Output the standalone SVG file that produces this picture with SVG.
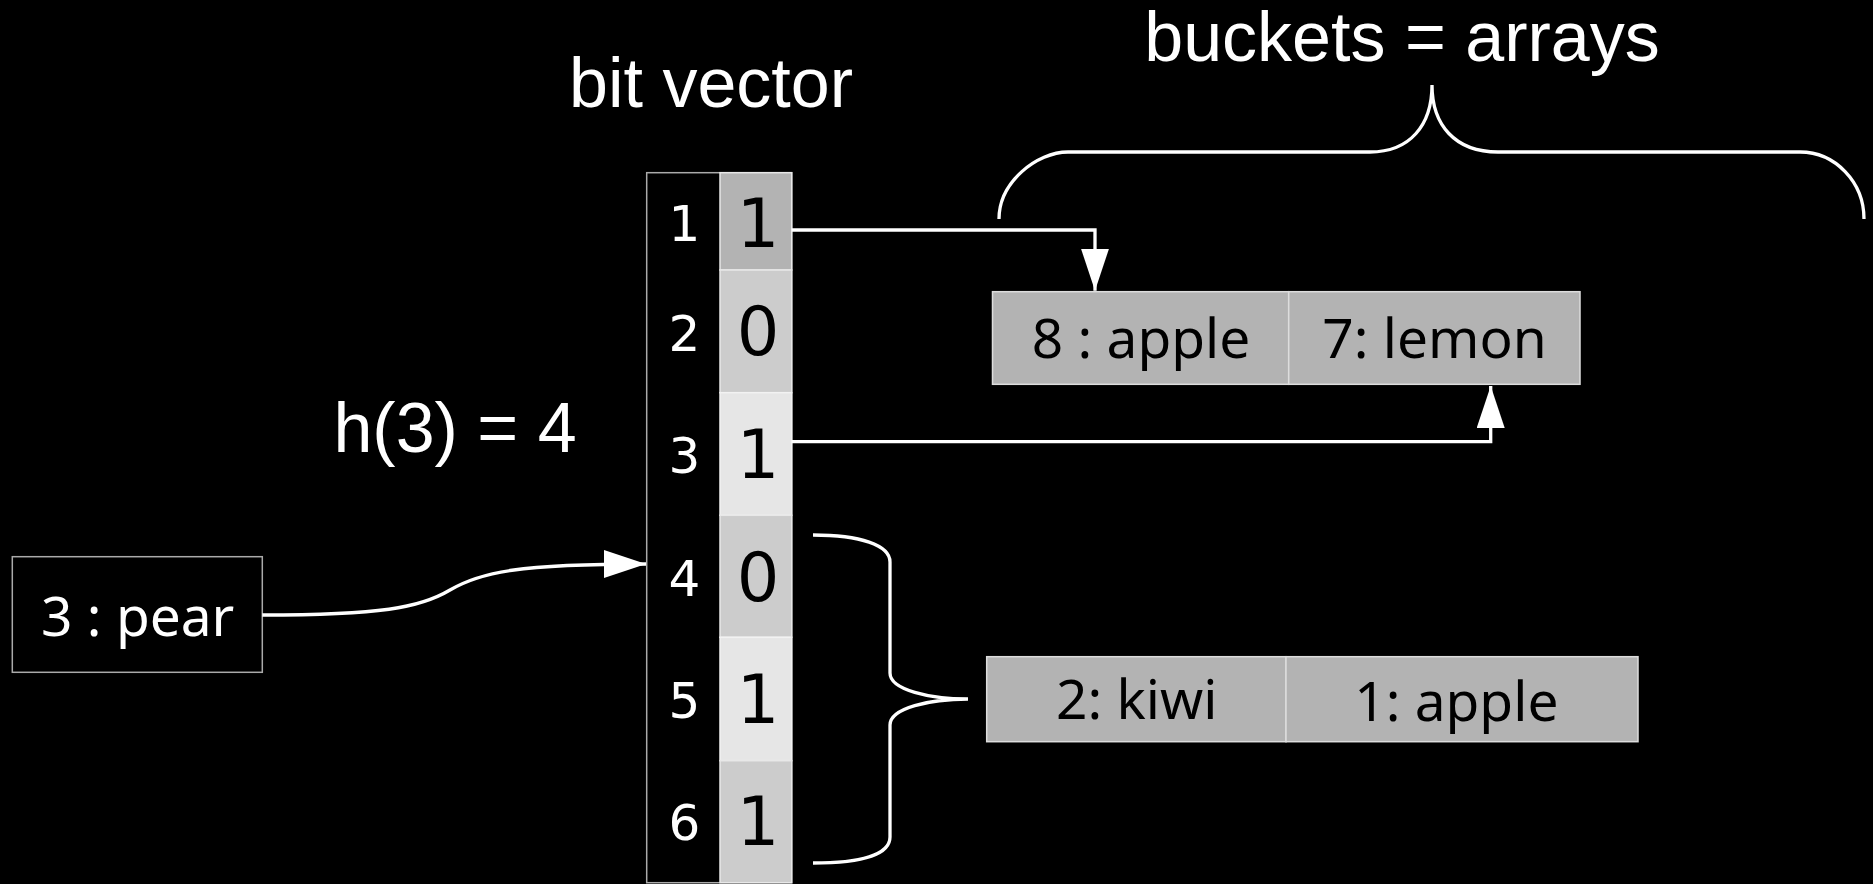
<svg xmlns="http://www.w3.org/2000/svg" width="1873" height="884" viewBox="0 0 1873 884">
<style>
.title{font-family:"Liberation Sans",Arial,sans-serif;font-size:70px;fill:#fff;text-anchor:middle}
.idx{font-family:"DejaVu Sans",sans-serif;font-size:50px;fill:#fff;text-anchor:middle}
.bit{font-family:"DejaVu Sans",sans-serif;font-size:67px;fill:#000;text-anchor:middle}
.item{font-family:"Noto Sans",sans-serif;font-size:55px;fill:#000;text-anchor:middle}
.cell{fill:#b3b3b3;stroke:#dddddd;stroke-width:1.5}
.conn{fill:none;stroke:#fff;stroke-width:3.3}
.brace{fill:none;stroke:#fff;stroke-width:3.3}
</style>
<defs>
<marker id="arr" markerUnits="userSpaceOnUse" markerWidth="42" markerHeight="28" refX="42" refY="14" orient="auto">
<path d="M0,0 L42,14 L0,28 z" fill="#fff"/>
</marker>
</defs>
<rect width="1873" height="884" fill="#000"/>

<g id="title-bit-vector"><text class="title" x="711" y="107">bit vector</text></g>
<g id="title-buckets"><text class="title" x="1402" y="61">buckets = arrays</text></g>
<g id="label-hash"><text class="title" x="455" y="452">h(3) = 4</text></g>

<g id="bit-vector">
<rect x="646.7" y="172.7" width="145" height="710" fill="#000" stroke="#aaaaaa" stroke-width="1.5"/>
<rect x="720" y="172.7" width="71.7" height="97.3" fill="#b3b3b3" stroke="#e8e8e8" stroke-width="1.5"/>
<rect x="720" y="270" width="71.7" height="122.7" fill="#cccccc" stroke="#e8e8e8" stroke-width="1.5"/>
<rect x="720" y="392.7" width="71.7" height="122.6" fill="#e6e6e6" stroke="#f2f2f2" stroke-width="1.5"/>
<rect x="720" y="515.3" width="71.7" height="122" fill="#cccccc" stroke="#e8e8e8" stroke-width="1.5"/>
<rect x="720" y="637.3" width="71.7" height="123.4" fill="#e6e6e6" stroke="#f2f2f2" stroke-width="1.5"/>
<rect x="720" y="760.7" width="71.7" height="122" fill="#cccccc" stroke="#e8e8e8" stroke-width="1.5"/>
<text class="idx" x="684.5" y="241">1</text>
<text class="idx" x="684.5" y="351">2</text>
<text class="idx" x="684.5" y="473">3</text>
<text class="idx" x="684.5" y="596">4</text>
<text class="idx" x="684.5" y="718">5</text>
<text class="idx" x="684.5" y="840">6</text>
<text class="bit" x="758" y="247">1</text>
<text class="bit" x="758" y="355">0</text>
<text class="bit" x="758" y="478">1</text>
<text class="bit" x="758" y="601">0</text>
<text class="bit" x="758" y="723">1</text>
<text class="bit" x="758" y="845">1</text>
</g>

<g id="pear">
<rect x="12.3" y="556.7" width="250" height="115.6" fill="#000" stroke="#aaaaaa" stroke-width="1.5"/>
<text class="item" x="137.7" y="635.7" style="fill:#fff">3 : pear</text>
</g>

<g id="bucket-1">
<rect class="cell" x="992.5" y="291.7" width="296.2" height="92.6"/>
<rect class="cell" x="1288.7" y="291.7" width="291.3" height="92.6"/>
<text class="item" x="1141" y="357.7">8 : apple</text>
<text class="item" x="1434.5" y="358.3">7: lemon</text>
</g>

<g id="bucket-2">
<rect class="cell" x="986.7" y="656.7" width="299.3" height="85"/>
<rect class="cell" x="1286" y="656.7" width="352" height="85"/>
<text class="item" x="1136.7" y="719.3">2: kiwi</text>
<text class="item" x="1456.3" y="720.7">1: apple</text>
</g>

<g id="brace-top">
<path class="brace" d="M999 219 C999 182 1037 152 1068 152 L1370 152 C1410 152 1432 125 1432 85 C1432 125 1455 152 1498 152 L1800 152 C1835 152 1864 182 1864 219"/>
</g>
<g id="brace-bottom">
<path class="brace" d="M813 535 C860 535 890 545 890 562 L890 673 C890 690 930 699 968 699 C930 699 890 708 890 725 L890 837 C890 855 860 863 813 863"/>
</g>

<g id="connectors">
<path class="conn" d="M791.7 230 H1095 V290.7" marker-end="url(#arr)"/>
<path class="conn" d="M791.7 441.7 H1490.7 V386" marker-end="url(#arr)"/>
<path class="conn" d="M262.3 615 C380 615 420 608 450 590 C480 572 520 564 646 564" marker-end="url(#arr)"/>
</g>
</svg>
